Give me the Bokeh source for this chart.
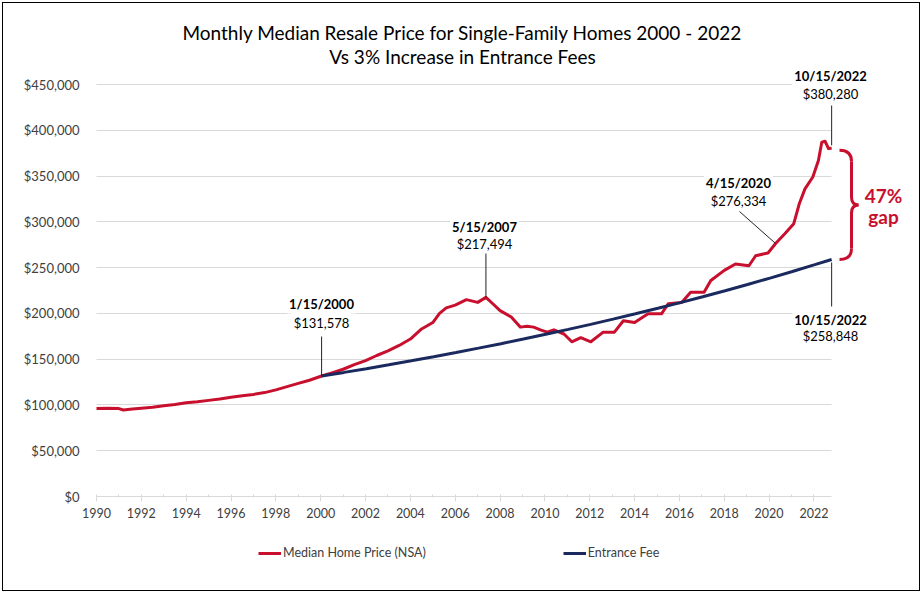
from bokeh.plotting import figure
from bokeh.models import (Range1d, FixedTicker, NumeralTickFormatter, Label,
                          Legend, LegendItem)
from bokeh.embed import file_html
from bokeh.resources import INLINE

# ---------------- data ----------------
red_year = [1990.0, 1990.5, 1991.0, 1991.2, 1991.6, 1992.0, 1992.5, 1993.0, 1993.5,
            1994.0, 1994.5, 1995.0, 1995.5, 1996.0, 1996.5, 1997.0, 1997.5, 1998.0,
            1998.5, 1999.0, 1999.5, 2000.04, 2000.5, 2001.0, 2001.5, 2002.0, 2002.5,
            2003.0, 2003.5, 2004.0, 2004.5, 2005.0, 2005.3, 2005.6, 2006.0, 2006.5,
            2007.0, 2007.37, 2007.7, 2008.0, 2008.5, 2008.9, 2009.2, 2009.5, 2009.8,
            2010.1, 2010.4, 2010.85, 2011.2, 2011.6, 2012.05, 2012.6, 2013.1, 2013.5,
            2014.0, 2014.6, 2015.2, 2015.5, 2016.1, 2016.5, 2017.1, 2017.4, 2018.0,
            2018.5, 2019.1, 2019.4, 2019.95, 2020.29, 2020.7, 2021.1, 2021.35, 2021.6,
            2021.95, 2022.2, 2022.35, 2022.5, 2022.65, 2022.79]
red_price = [96000, 96500, 96000, 94500, 95500, 96500, 97500, 99000, 100500,
             102500, 103500, 105000, 106500, 108500, 110000, 111500, 113500, 116500,
             120000, 123500, 127000, 131578, 135000, 139000, 144000, 148500, 154000,
             159000, 165000, 172000, 183000, 190000, 200000, 206000, 209000, 215000,
             212000, 217494, 210000, 203000, 196000, 185000, 186000, 185000, 182000,
             179500, 182000, 177500, 169000, 173500, 169000, 179500, 179500, 192000,
             190000, 199500, 199500, 210500, 212000, 223000, 223000, 236000, 247000,
             254000, 252000, 263000, 266000, 276334, 287000, 298000, 320000, 336000,
             349000, 367000, 387000, 388000, 380000, 380280]

fee_year = [2000.04, 2001.04, 2002.04, 2003.04, 2004.04, 2005.04, 2006.04, 2007.04,
            2008.04, 2009.04, 2010.04, 2011.04, 2012.04, 2013.04, 2014.04, 2015.04,
            2016.04, 2017.04, 2018.04, 2019.04, 2020.04, 2021.04, 2022.04, 2022.79]
fee_value = [131578, 135552, 139645, 143862, 148207, 152683, 157294, 162044,
             166938, 171979, 177173, 182524, 188036, 193715, 199565, 205592,
             211801, 218197, 224787, 231575, 238569, 245774, 253196, 258848]

x_ticks = [1990, 1992, 1994, 1996, 1998, 2000, 2002, 2004, 2006, 2008, 2010,
           2012, 2014, 2016, 2018, 2020, 2022]
x_minor = [1991, 1993, 1995, 1997, 1999, 2001, 2003, 2005, 2007, 2009, 2011,
           2013, 2015, 2017, 2019, 2021]
y_ticks = [0, 50000, 100000, 150000, 200000, 250000, 300000, 350000, 400000, 450000]

notes = [  # (date label, value label)
    ("1/15/2000", "$131,578"),
    ("5/15/2007", "$217,494"),
    ("4/15/2020", "$276,334"),
    ("10/15/2022", "$380,280"),
    ("10/15/2022", "$258,848"),
]

RED = "#C8102E"
BLUE = "#1B2A5E"
TXT = "#404040"
FONT = "Lato"

# ---------------- layout helpers ----------------
OFF = 3                      # page px of margin + border before figure content
W, H = 918, 589
FRAME_LEFT, FRAME_RIGHT = 80, 909     # absolute page px
FRAME_TOP, FRAME_BOTTOM = 16, 562
LEFT = FRAME_LEFT - OFF
RIGHT = W - (FRAME_RIGHT - OFF)
TOP = FRAME_TOP - OFF
BOTTOM = H - (FRAME_BOTTOM - OFF)
PX_YEAR = 22.42              # pixels per year
PX_VAL = 412 / 450000        # pixels per dollar
X0 = 1990
x_last = fee_year[-1]


def dy(px):
    return px / PX_VAL


def ax(absx):   # absolute page x -> data
    return X0 + (absx - 96) / PX_YEAR


def ay(absy):   # absolute page y -> data
    return (496 - absy) / PX_VAL


p = figure(width=W, height=H, output_backend="svg", toolbar_location=None,
           x_range=Range1d(ax(FRAME_LEFT), ax(FRAME_RIGHT)),
           y_range=Range1d(ay(FRAME_BOTTOM), ay(FRAME_TOP)),
           min_border_left=LEFT, min_border_right=RIGHT,
           min_border_top=TOP, min_border_bottom=BOTTOM)
p.outline_line_color = None
p.background_fill_color = "white"
p.border_fill_color = "white"
p.styles = {"border": "1px solid #000000", "margin": "2px"}

# axes
p.xaxis.fixed_location = 0
p.xaxis.ticker = FixedTicker(ticks=x_ticks, minor_ticks=x_minor)
p.xaxis.bounds = (X0, x_last)
p.xaxis.axis_line_color = "#D9D9D9"
p.xaxis.major_tick_line_color = "#D9D9D9"
p.xaxis.minor_tick_line_color = "#D9D9D9"
p.xaxis.major_tick_in = 2
p.xaxis.major_tick_out = 5
p.xaxis.minor_tick_in = 2
p.xaxis.minor_tick_out = 1
p.xaxis.major_label_standoff = 6
p.xaxis.major_label_text_font = FONT
p.xaxis.major_label_text_font_size = "12.5px"
p.xaxis.major_label_text_color = TXT

p.yaxis.ticker = FixedTicker(ticks=y_ticks)
p.yaxis.formatter = NumeralTickFormatter(format="$0,0")
p.yaxis.axis_line_color = None
p.yaxis.major_tick_line_color = None
p.yaxis.minor_tick_line_color = None
p.yaxis.major_tick_in = 0
p.yaxis.major_tick_out = 0
p.yaxis.minor_tick_in = 0
p.yaxis.minor_tick_out = 0
p.yaxis.major_label_standoff = 1
p.yaxis.major_label_text_font = FONT
p.yaxis.major_label_text_font_size = "13px"
p.yaxis.major_label_text_color = TXT

p.xgrid.visible = False
p.ygrid.ticker = FixedTicker(ticks=y_ticks[1:])
p.ygrid.grid_line_color = "#D9D9D9"
p.ygrid.cross_bounds = (X0, x_last)

# series
r_red = p.line(red_year, red_price, line_color=RED, line_width=3, line_join="round")
r_blue = p.line(fee_year, fee_value, line_color=BLUE, line_width=3)

# leader lines
lx0 = [red_year[21], red_year[37], red_year[67], red_year[-1], fee_year[-1]]
ly0 = [red_price[21], red_price[37], red_price[67], red_price[-1] + dy(3), fee_value[-1] - dy(3)]
lx1 = [red_year[21], red_year[37], ax(739), red_year[-1], fee_year[-1]]
ly1 = [ay(336), ay(252), ay(211), ay(105), ay(306)]
p.segment(lx0, ly0, lx1, ly1, line_color="#222222", line_width=1)

# labels
label_pos = [(ax(321), ay(303), ay(322)), (ax(484), ay(226), ay(243)),
             (ax(738), ay(182), ay(200)), (ax(830), ay(75), ay(93)),
             (ax(830), ay(319), ay(335))]
for (d, v), (lx, y1, y2) in zip(notes, label_pos):
    p.add_layout(Label(x=lx, y=y1, text=d, text_align="center", text_baseline="middle",
                       text_font=FONT, text_font_style="bold", text_font_size="13px",
                       text_color="#000000", background_fill_color="white",
                       padding=2))
    p.add_layout(Label(x=lx, y=y2, text=v, text_align="center", text_baseline="middle",
                       text_font=FONT, text_font_size="13px", text_color="#000000",
                       background_fill_color="white", padding=2))

# gap brace
bt = red_price[-1] - dy(2)
bb = fee_value[-1]
bm = (bt + bb) / 2
xa, xb, xc = ax(839), ax(851), ax(858)
r = dy(11)
h = dy(8)
p.quadratic(x0=[xa, xb, xb, xc], y0=[bt, bb + r, bm + h, bm],
            x1=[xb, xa, xc, xb], y1=[bt - r, bb, bm, bm - h],
            cx=[xb, xb, xb, xb], cy=[bt, bb, bm, bm],
            line_color=RED, line_width=3)
p.segment(x0=[xb, xb], y0=[bt - r, bm - h], x1=[xb, xb], y1=[bm + h, bb + r],
          line_color=RED, line_width=3)
p.add_layout(Label(x=ax(883), y=ay(195), text="47%", text_align="center",
                   text_baseline="middle", text_font=FONT, text_font_style="bold",
                   text_font_size="19px", text_color=RED))
p.add_layout(Label(x=ax(883), y=ay(216), text="gap", text_align="center",
                   text_baseline="middle", text_font=FONT, text_font_style="bold",
                   text_font_size="19px", text_color=RED))

# title
p.add_layout(Label(x=ax(462), y=ay(32), text="Monthly Median Resale Price for Single-Family Homes 2000 - 2022",
                   text_align="center", text_baseline="middle", text_font=FONT,
                   text_font_size="19px", text_color="#000000"))
p.add_layout(Label(x=ax(462), y=ay(56), text="Vs 3% Increase in Entrance Fees",
                   text_align="center", text_baseline="middle", text_font=FONT,
                   text_font_size="19px", text_color="#000000"))

# legend (inside the frame, below the x axis)
legend = Legend(items=[LegendItem(label="Median Home Price (NSA)", renderers=[r_red]),
                       LegendItem(label="Entrance Fee", renderers=[r_blue])],
                orientation="horizontal", spacing=137, glyph_width=23, glyph_height=14,
                label_standoff=2, padding=0, margin=0, border_line_color=None,
                background_fill_alpha=0, label_text_font=FONT,
                label_text_font_size="12.5px", label_text_color=TXT,
                location=(258 - FRAME_LEFT, FRAME_BOTTOM - 560))
p.add_layout(legend)

open("out.html", "w").write(file_html(p, INLINE))
